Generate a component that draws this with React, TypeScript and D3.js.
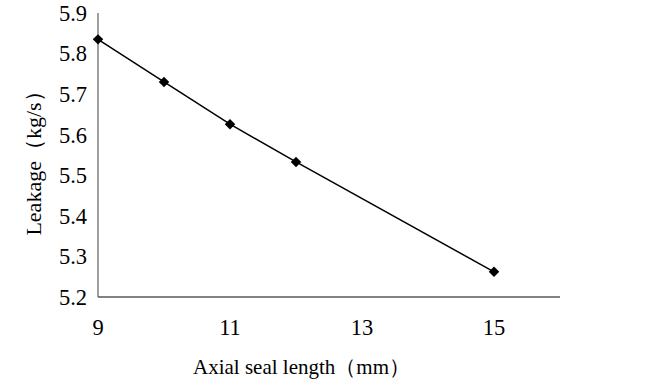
import * as d3 from "d3"

// axial seal length (mm)
const lengths = [9, 10, 11, 12, 15]
// leakage (kg/s)
const leakage = [5.835, 5.73, 5.626, 5.533, 5.262]
const xTicks = [9, 11, 13, 15]
const yTicks = [5.2, 5.3, 5.4, 5.5, 5.6, 5.7, 5.8, 5.9]

const W = 669
const H = 383
const margin = { top: 13, right: 109, bottom: 86, left: 98 }

export default function App() {
  const innerW = W - margin.left - margin.right
  const innerH = H - margin.top - margin.bottom

  const x = d3.scaleLinear().domain([9, 16]).range([0, innerW])
  const y = d3.scaleLinear().domain([5.2, 5.9]).range([innerH, 0])

  const pts = lengths.map((l, i) => [x(l), y(leakage[i])] as [number, number])
  const line = d3.line()(pts) || ""
  const diamond = d3.symbol().type(d3.symbolDiamond2).size(70)() || ""

  const font = "'Liberation Serif', 'Times New Roman', Times, serif"
  const txt = { fontFamily: font, fontSize: 21 }
  const tick = { fontFamily: font, fontSize: 22.5 }

  return (
    <svg width={W} height={H} style={{ position: "absolute", left: 0, top: 0, background: "#fff" }}>
      <g transform={`translate(${margin.left},${margin.top})`} fill="#000">
        <line x1={0} y1={0} x2={0} y2={innerH} stroke="#7f7f7f" strokeWidth={1.5} />
        <line x1={0} y1={innerH} x2={innerW} y2={innerH} stroke="#595959" strokeWidth={1.5} />
        {yTicks.map((t) => (
          <text key={t} x={-11} y={y(t)} dy="0.35em" textAnchor="end" style={tick}>
            {t.toFixed(1)}
          </text>
        ))}
        {xTicks.map((t) => (
          <text key={t} x={x(t)} y={innerH + 30} dy="0.35em" textAnchor="middle" style={tick}>
            {t}
          </text>
        ))}
        <path d={line} fill="none" stroke="#000" strokeWidth={1.5} />
        {pts.map(([px, py], i) => (
          <path key={i} d={diamond} transform={`translate(${px},${py})`} fill="#000" />
        ))}
        <text x={95} y={innerH + 70} dy="0.35em" textAnchor="start" style={txt}>
          Axial seal length（mm）
        </text>
        <text
          transform={`translate(${-65},${innerH / 2 + 3}) rotate(-90)`}
          dy="0.35em"
          textAnchor="middle"
          style={{ ...txt, fontSize: 22 }}
        >
          Leakage（kg/s）
        </text>
      </g>
    </svg>
  )
}
